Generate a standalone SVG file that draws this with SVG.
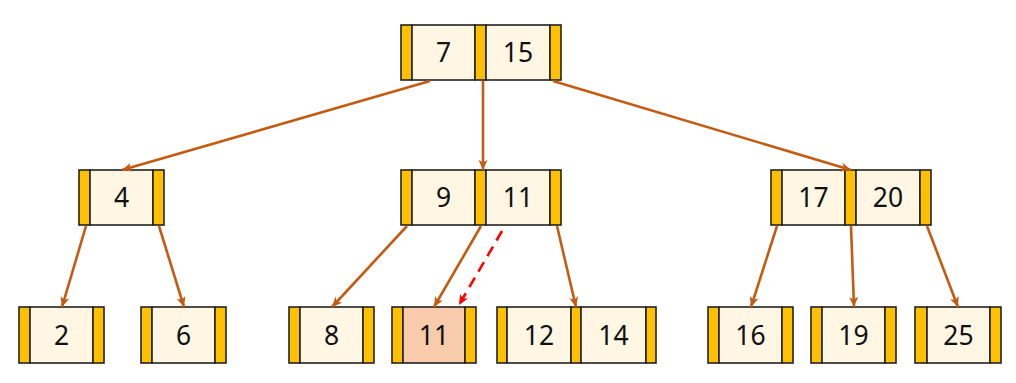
<svg xmlns="http://www.w3.org/2000/svg" width="1016" height="383" viewBox="0 0 1016 383">
<defs>
<style>
.p{fill:#FFC000;stroke:#222;stroke-width:1.6}
.k{fill:#FFF6E4;stroke:#222;stroke-width:1.6}
.h{fill:#F8CBAD;stroke:#222;stroke-width:1.6}
.t{font-family:"Noto Sans","Noto Sans CJK KR","DejaVu Sans",sans-serif;font-size:26.5px;fill:#111;text-anchor:middle}
.e{fill:none;stroke:#C55A11;stroke-width:2.6}
.d{fill:none;stroke:#FF0000;stroke-width:2.6;stroke-dasharray:11 7}
</style>
<marker id="a" viewBox="0 0 10 10" refX="10" refY="5" markerWidth="11" markerHeight="10" markerUnits="userSpaceOnUse" orient="auto">
<path d="M0,0.5 L10,5 L0,9.5 L2.5,5 z" fill="#C55A11"/>
</marker>
<marker id="r" viewBox="0 0 10 10" refX="10" refY="5" markerWidth="11" markerHeight="10" markerUnits="userSpaceOnUse" orient="auto">
<path d="M0,0.5 L10,5 L0,9.5 L2.5,5 z" fill="#FF0000"/>
</marker>
</defs>
<rect width="1016" height="383" fill="#FFFFFF"/>
<g id="root">
<rect class="p" x="401" y="25" width="11" height="55"/><rect class="k" x="412" y="25" width="63" height="55"/><rect class="p" x="475" y="25" width="11" height="55"/><rect class="k" x="486" y="25" width="64" height="55"/><rect class="p" x="550" y="25" width="11" height="55"/>
<text class="t" x="443.5" y="62">7</text><text class="t" x="518" y="62">15</text>
</g>
<g id="n4">
<rect class="p" x="79" y="170" width="11" height="55"/><rect class="k" x="90" y="170" width="63" height="55"/><rect class="p" x="153" y="170" width="11" height="55"/>
<text class="t" x="121.5" y="207">4</text>
</g>
<g id="n9_11">
<rect class="p" x="401" y="170" width="11" height="55"/><rect class="k" x="412" y="170" width="63" height="55"/><rect class="p" x="475" y="170" width="11" height="55"/><rect class="k" x="486" y="170" width="64" height="55"/><rect class="p" x="550" y="170" width="11" height="55"/>
<text class="t" x="443.5" y="207">9</text><text class="t" x="518" y="207">11</text>
</g>
<g id="n17_20">
<rect class="p" x="771" y="170" width="11" height="55"/><rect class="k" x="782" y="170" width="63" height="55"/><rect class="p" x="845" y="170" width="11" height="55"/><rect class="k" x="856" y="170" width="64" height="55"/><rect class="p" x="920" y="170" width="11" height="55"/>
<text class="t" x="813.5" y="207">17</text><text class="t" x="888" y="207">20</text>
</g>
<g id="n2">
<rect class="p" x="19" y="307" width="11" height="56"/><rect class="k" x="30" y="307" width="63" height="56"/><rect class="p" x="93" y="307" width="11" height="56"/>
<text class="t" x="61.5" y="344.5">2</text>
</g>
<g id="n6">
<rect class="p" x="141" y="307" width="11" height="56"/><rect class="k" x="152" y="307" width="63" height="56"/><rect class="p" x="215" y="307" width="11" height="56"/>
<text class="t" x="183.5" y="344.5">6</text>
</g>
<g id="n8">
<rect class="p" x="289" y="307" width="11" height="56"/><rect class="k" x="300" y="307" width="63" height="56"/><rect class="p" x="363" y="307" width="11" height="56"/>
<text class="t" x="331.5" y="344.5">8</text>
</g>
<g id="n11">
<rect class="p" x="392" y="307" width="11" height="56"/><rect class="h" x="403" y="307" width="62" height="56"/><rect class="p" x="465" y="307" width="11" height="56"/>
<text class="t" x="434" y="344.5">11</text>
</g>
<g id="n12_14">
<rect class="p" x="497" y="307" width="10" height="56"/><rect class="k" x="507" y="307" width="64" height="56"/><rect class="p" x="571" y="307" width="10" height="56"/><rect class="k" x="581" y="307" width="65" height="56"/><rect class="p" x="646" y="307" width="10" height="56"/>
<text class="t" x="539" y="344.5">12</text><text class="t" x="613.5" y="344.5">14</text>
</g>
<g id="n16">
<rect class="p" x="708" y="307" width="11" height="56"/><rect class="k" x="719" y="307" width="63" height="56"/><rect class="p" x="782" y="307" width="11" height="56"/>
<text class="t" x="750.5" y="344.5">16</text>
</g>
<g id="n19">
<rect class="p" x="811" y="307" width="11" height="56"/><rect class="k" x="822" y="307" width="63" height="56"/><rect class="p" x="885" y="307" width="11" height="56"/>
<text class="t" x="853.5" y="344.5">19</text>
</g>
<g id="n25">
<rect class="p" x="915" y="307" width="12" height="56"/><rect class="k" x="927" y="307" width="63" height="56"/><rect class="p" x="990" y="307" width="11" height="56"/>
<text class="t" x="958.5" y="344.5">25</text>
</g>
<g id="connectors">
<line class="e" x1="430" y1="81" x2="122" y2="170" marker-end="url(#a)"/>
<line class="e" x1="483" y1="81" x2="483" y2="170" marker-end="url(#a)"/>
<line class="e" x1="553" y1="81" x2="851" y2="170" marker-end="url(#a)"/>
<line class="e" x1="86" y1="226" x2="62" y2="307" marker-end="url(#a)"/>
<line class="e" x1="159" y1="226" x2="184" y2="307" marker-end="url(#a)"/>
<line class="e" x1="407" y1="226" x2="332" y2="307" marker-end="url(#a)"/>
<line class="e" x1="481" y1="226" x2="434" y2="307" marker-end="url(#a)"/>
<line class="d" x1="502" y1="231" x2="459" y2="305" marker-end="url(#r)"/>
<line class="e" x1="557" y1="226" x2="576" y2="307" marker-end="url(#a)"/>
<line class="e" x1="777" y1="226" x2="751" y2="307" marker-end="url(#a)"/>
<line class="e" x1="851" y1="226" x2="854" y2="307" marker-end="url(#a)"/>
<line class="e" x1="927" y1="226" x2="958" y2="307" marker-end="url(#a)"/>
</g>
</svg>
